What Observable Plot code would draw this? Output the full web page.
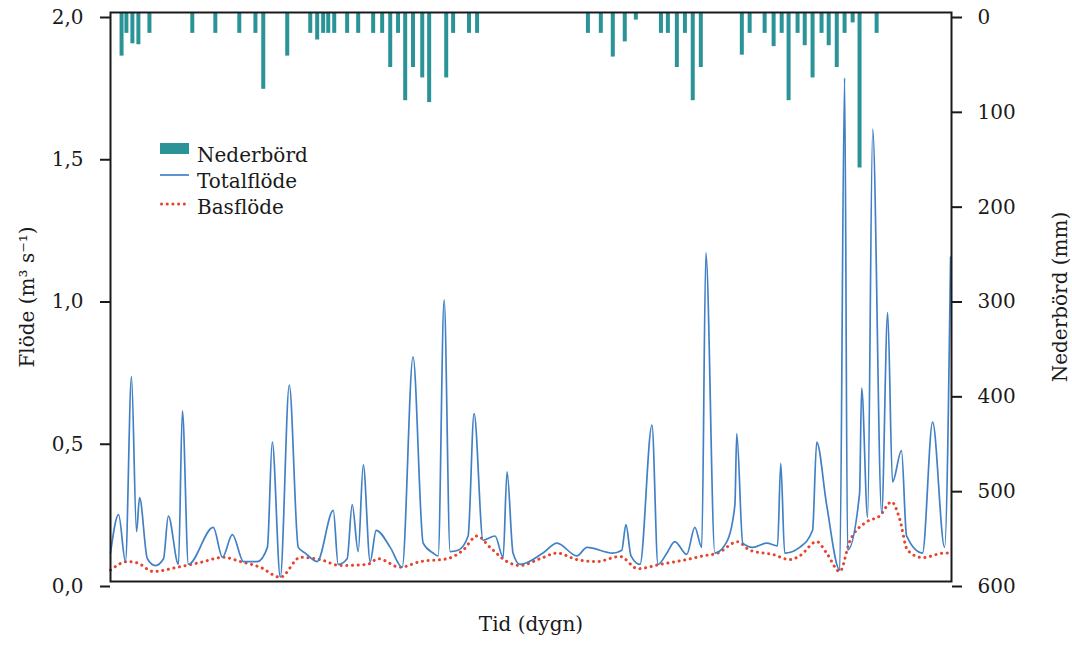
<!DOCTYPE html>
<html>
<head>
<meta charset="utf-8">
<script src="https://cdn.jsdelivr.net/npm/d3@7"></script>
<script src="https://cdn.jsdelivr.net/npm/@observablehq/plot@0.6"></script>
<style>
  html, body { margin: 0; padding: 0; background: #fff; }
  #wrap { position: relative; width: 1072px; height: 648px; font-family: "DejaVu Serif", serif; }
  #legend { position: absolute; left: 160px; top: 142px; font-size: 20px; color: #1a1a1a; }
  #legend .row { position: relative; height: 26px; line-height: 26px; white-space: nowrap; }
  #legend svg { position: absolute; left: 0; top: 0; }
  #legend span { position: absolute; left: 37px; top: 0; }
</style>
</head>
<body>
<div id="wrap"></div>
<script>
// Nederbörd (mm) per dygn
const rainDays = [4.8, 6.9, 9.5, 12.1, 16.9, 35.5, 45.5, 55.9, 62.9, 66.3, 76.7, 86.7, 89.7, 92.3, 94.5, 97.1, 102.7, 107.5, 114.0, 117.9, 121.4, 124.8, 127.9, 131.3, 135.3, 138.3, 145.7, 148.7, 155.6, 159.1, 207.2, 212.8, 218.0, 223.2, 228.0, 238.9, 241.9, 245.8, 249.3, 252.7, 256.2, 274.0, 277.4, 283.9, 287.8, 291.3, 294.3, 298.2, 301.3, 304.7, 308.6, 311.7, 315.2, 318.6, 322.1, 325.1, 332.5];
const rainMm = [46, 22, 33, 34, 22, 22, 22, 22, 22, 81, 46, 22, 29, 22, 22, 22, 22, 22, 22, 22, 58, 22, 93, 58, 69, 95, 69, 22, 22, 22, 22, 22, 47, 31, 8, 22, 22, 58, 22, 93, 58, 45, 22, 22, 36, 22, 93, 22, 35, 69, 22, 35, 58, 22, 11, 164, 22];

// Totalflöde (m3/s)
const totalDays = [0, 3.5, 6.5, 9.1, 11.3, 12.6, 16.0, 19.5, 23.0, 25.1, 29.5, 31.2, 33.8, 44.6, 48.6, 52.9, 57.7, 63.7, 68.1, 70.2, 73.7, 77.6, 81.5, 84.5, 89.7, 96.7, 98.8, 102.7, 104.9, 107.5, 109.7, 112.7, 115.3, 121.4, 126.6, 131.3, 135.7, 140.0, 142.2, 144.8, 147.4, 150.9, 155.2, 157.8, 161.7, 166.9, 170.4, 172.1, 174.7, 177.7, 187.7, 193.8, 202.4, 206.8, 218.0, 221.9, 223.7, 225.9, 229.8, 235.0, 237.6, 241.5, 244.9, 250.1, 253.6, 256.6, 258.4, 262.3, 267.5, 271.0, 271.8, 274.4, 278.7, 284.8, 289.5, 290.9, 292.6, 299.1, 304.7, 306.5, 310.8, 316.5, 318.6, 319.9, 325.1, 326.0, 328.6, 330.8, 334.7, 337.3, 339.4, 343.3, 345.5, 352.4, 356.8, 362.0, 364.6];
const totalFlow = [0.10, 0.235, 0.07, 0.72, 0.175, 0.295, 0.08, 0.056, 0.08, 0.23, 0.06, 0.60, 0.06, 0.19, 0.085, 0.165, 0.07, 0.07, 0.12, 0.49, 0.015, 0.69, 0.12, 0.10, 0.07, 0.25, 0.06, 0.08, 0.27, 0.105, 0.41, 0.07, 0.18, 0.12, 0.05, 0.79, 0.135, 0.10, 0.09, 0.99, 0.105, 0.11, 0.16, 0.59, 0.145, 0.16, 0.085, 0.385, 0.10, 0.06, 0.10, 0.135, 0.09, 0.12, 0.10, 0.11, 0.20, 0.09, 0.06, 0.55, 0.06, 0.10, 0.14, 0.095, 0.19, 0.12, 1.155, 0.10, 0.14, 0.27, 0.52, 0.135, 0.12, 0.135, 0.125, 0.415, 0.10, 0.12, 0.18, 0.49, 0.27, 0.04, 1.77, 0.11, 0.31, 0.68, 0.225, 1.59, 0.24, 0.945, 0.35, 0.46, 0.16, 0.10, 0.56, 0.12, 1.14];

// Basflöde (m3/s)
const baseDays = [0, 7.4, 11.7, 18.6, 29.0, 39.0, 49.0, 56.4, 65.0, 73.7, 82.4, 91.0, 99.7, 111.4, 116.2, 125.7, 134.4, 146.1, 153.0, 159.1, 164.7, 172.1, 177.7, 186.4, 193.8, 202.4, 211.1, 221.1, 228.9, 238.4, 250.1, 257.1, 263.6, 272.2, 277.4, 287.4, 294.8, 299.1, 306.5, 310.8, 316.5, 320.8, 328.2, 333.8, 339.0, 342.5, 345.9, 352.4, 362.0, 365];
const baseFlow = [0.04, 0.07, 0.065, 0.035, 0.05, 0.067, 0.085, 0.07, 0.05, 0.015, 0.085, 0.077, 0.056, 0.06, 0.08, 0.05, 0.07, 0.08, 0.11, 0.16, 0.12, 0.07, 0.056, 0.08, 0.10, 0.077, 0.07, 0.088, 0.045, 0.06, 0.077, 0.09, 0.10, 0.14, 0.11, 0.095, 0.077, 0.09, 0.14, 0.10, 0.035, 0.14, 0.21, 0.23, 0.28, 0.22, 0.11, 0.084, 0.10, 0.10];

const flowTicks = [0, 0.5, 1, 1.5, 2];
const rainTicks = [0, 100, 200, 300, 400, 500, 600];

const rain = rainDays.map((d, i) => ({day: d, mm: rainMm[i]}));
const total = totalDays.map((d, i) => ({day: d, q: totalFlow[i]}));
const base = baseDays.map((d, i) => ({day: d, q: baseFlow[i]}));

// precipitation drawn on the flow scale: 0 mm at top (2.0), 600 mm at bottom (0.0)
const mmToY = mm => 2 - mm / 300;
const yToMm = y => Math.round((2 - y) * 300);

const TEAL = "#2a9396", BLUE = "#4280c6", RED = "#e8432e", INK = "#1a1a1a";

const chart = Plot.plot({
  width: 1072,
  height: 648,
  marginLeft: 110,
  marginRight: 121,
  marginTop: 12,
  marginBottom: 67,
  style: {fontFamily: "DejaVu Serif, serif", fontSize: "20px", color: INK, background: "#fff"},
  x: {domain: [0, 365], axis: null},
  y: {domain: [0, 2], axis: null},
  marks: [
    Plot.ruleX(rain, {x: "day", y1: 2, y2: d => mmToY(d.mm), stroke: TEAL, strokeWidth: 4}),
    Plot.line(base, {x: "day", y: "q", stroke: RED, strokeWidth: 3, strokeDasharray: "0.1,5.6", strokeLinecap: "round", curve: "monotone-x"}),
    Plot.line(total, {x: "day", y: "q", stroke: BLUE, strokeWidth: 1.7, curve: "monotone-x"}),
    Plot.frame({stroke: INK, strokeWidth: 2}),
    Plot.axisY({anchor: "left", ticks: flowTicks, tickSize: 10, tickPadding: 17, strokeWidth: 2, stroke: INK, fontSize: 20, dy: 5,
      tickFormat: d => d.toFixed(1).replace(".", ","), label: null}),
    Plot.axisY({anchor: "right", ticks: rainTicks.map(mmToY), tickSize: 10, tickPadding: 16, strokeWidth: 2, stroke: INK, fontSize: 20, dy: 5,
      tickFormat: yToMm, label: null}),
    Plot.text(["Flöde (m³ s⁻¹)"], {frameAnchor: "left", textAnchor: "middle", dx: -83, rotate: -90, fontSize: 20, fill: INK}),
    Plot.text(["Nederbörd (mm)"], {frameAnchor: "right", textAnchor: "middle", dx: 109, rotate: -90, fontSize: 20, fill: INK}),
    Plot.text(["Tid (dygn)"], {frameAnchor: "bottom", dy: 49, fontSize: 20, fill: INK})
  ]
});

const wrap = document.getElementById("wrap");
wrap.appendChild(chart);

const legend = document.createElement("div");
legend.id = "legend";
legend.innerHTML = `
  <div class="row"><svg width="30" height="26"><rect x="0" y="1" width="29" height="11" fill="${TEAL}"/></svg><span>Nederbörd</span></div>
  <div class="row"><svg width="30" height="26"><line x1="0" x2="29" y1="7" y2="7" stroke="${BLUE}" stroke-width="1.7"/></svg><span>Totalflöde</span></div>
  <div class="row"><svg width="30" height="26"><line x1="1.5" x2="29" y1="10" y2="10" stroke="${RED}" stroke-width="3" stroke-dasharray="0.1,5.6" stroke-linecap="round"/></svg><span>Basflöde</span></div>`;
wrap.appendChild(legend);
</script>
</body>
</html>
